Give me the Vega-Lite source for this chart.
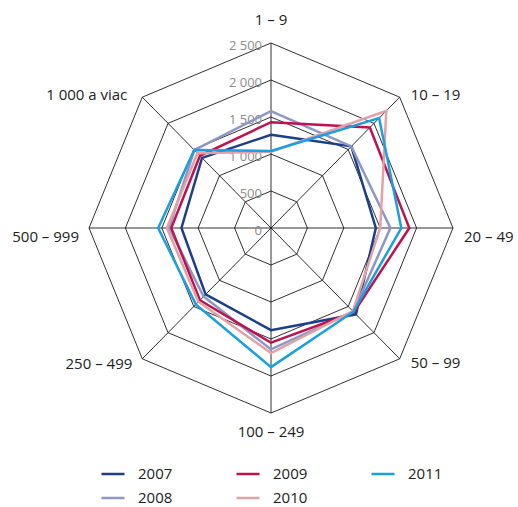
{
  "$schema": "https://vega.github.io/schema/vega-lite/v6.json",
  "width": 364,
  "height": 370,
  "autosize": {"type": "none"},
  "padding": {"left": 89, "top": 43, "right": 65, "bottom": 94},
  "background": "white",
  "config": {
    "view": {"stroke": null},
    "font": "Open Sans",
    "text": {"font": "Open Sans"}
  },
  "datasets": {
    "axes": [
      {"idx": 0, "label": "1 – 9", "levels": [500, 1000, 1500, 2000, 2500]},
      {"idx": 1, "label": "10 – 19", "levels": [500, 1000, 1500, 2000, 2500]},
      {"idx": 2, "label": "20 – 49", "levels": [500, 1000, 1500, 2000, 2500]},
      {"idx": 3, "label": "50 – 99", "levels": [500, 1000, 1500, 2000, 2500]},
      {"idx": 4, "label": "100 – 249", "levels": [500, 1000, 1500, 2000, 2500]},
      {"idx": 5, "label": "250 – 499", "levels": [500, 1000, 1500, 2000, 2500]},
      {"idx": 6, "label": "500 – 999", "levels": [500, 1000, 1500, 2000, 2500]},
      {"idx": 7, "label": "1 000 a viac", "levels": [500, 1000, 1500, 2000, 2500]}
    ],
    "ticks": [
      {"tick": 0, "label": "0"},
      {"tick": 500, "label": "500"},
      {"tick": 1000, "label": "1 000"},
      {"tick": 1500, "label": "1 500"},
      {"tick": 2000, "label": "2 000"},
      {"tick": 2500, "label": "2 500"}
    ],
    "series": [
      {"year": "2007", "idx": 0, "value": 1260},
      {"year": "2007", "idx": 1, "value": 1560},
      {"year": "2007", "idx": 2, "value": 1440},
      {"year": "2007", "idx": 3, "value": 1650},
      {"year": "2007", "idx": 4, "value": 1380},
      {"year": "2007", "idx": 5, "value": 1270},
      {"year": "2007", "idx": 6, "value": 1230},
      {"year": "2007", "idx": 7, "value": 1340},
      {"year": "2008", "idx": 0, "value": 1580},
      {"year": "2008", "idx": 1, "value": 1560},
      {"year": "2008", "idx": 2, "value": 1640},
      {"year": "2008", "idx": 3, "value": 1600},
      {"year": "2008", "idx": 4, "value": 1640},
      {"year": "2008", "idx": 5, "value": 1310},
      {"year": "2008", "idx": 6, "value": 1400},
      {"year": "2008", "idx": 7, "value": 1490},
      {"year": "2009", "idx": 0, "value": 1430},
      {"year": "2009", "idx": 1, "value": 1920},
      {"year": "2009", "idx": 2, "value": 1900},
      {"year": "2009", "idx": 3, "value": 1610},
      {"year": "2009", "idx": 4, "value": 1550},
      {"year": "2009", "idx": 5, "value": 1380},
      {"year": "2009", "idx": 6, "value": 1370},
      {"year": "2009", "idx": 7, "value": 1380},
      {"year": "2010", "idx": 0, "value": 1030},
      {"year": "2010", "idx": 1, "value": 2240},
      {"year": "2010", "idx": 2, "value": 1500},
      {"year": "2010", "idx": 3, "value": 1590},
      {"year": "2010", "idx": 4, "value": 1690},
      {"year": "2010", "idx": 5, "value": 1410},
      {"year": "2010", "idx": 6, "value": 1430},
      {"year": "2010", "idx": 7, "value": 1430},
      {"year": "2011", "idx": 0, "value": 1040},
      {"year": "2011", "idx": 1, "value": 2100},
      {"year": "2011", "idx": 2, "value": 1790},
      {"year": "2011", "idx": 3, "value": 1600},
      {"year": "2011", "idx": 4, "value": 1880},
      {"year": "2011", "idx": 5, "value": 1460},
      {"year": "2011", "idx": 6, "value": 1550},
      {"year": "2011", "idx": 7, "value": 1490}
    ]
  },
  "layer": [
    {
      "data": {"name": "axes"},
      "transform": [
        {"flatten": ["levels"]},
        {"calculate": "datum.levels * sin(datum.idx * PI / 4)", "as": "gx"},
        {"calculate": "datum.levels * cos(datum.idx * PI / 4)", "as": "gy"}
      ],
      "mark": {"type": "line", "interpolate": "linear-closed", "color": "#1a1a1a", "strokeWidth": 0.9},
      "encoding": {
        "x": {"field": "gx", "type": "quantitative", "scale": {"domain": [-2500, 2500]}, "axis": null},
        "y": {"field": "gy", "type": "quantitative", "scale": {"domain": [-2500, 2500]}, "axis": null},
        "detail": {"field": "levels", "type": "nominal"},
        "order": {"field": "idx", "type": "quantitative"}
      }
    },
    {
      "data": {"name": "axes"},
      "transform": [
        {"calculate": "0", "as": "cx"},
        {"calculate": "2500 * sin(datum.idx * PI / 4)", "as": "sx"},
        {"calculate": "2500 * cos(datum.idx * PI / 4)", "as": "sy"}
      ],
      "mark": {"type": "rule", "color": "#1a1a1a", "strokeWidth": 0.9},
      "encoding": {
        "x": {"field": "cx", "type": "quantitative"},
        "y": {"field": "cx", "type": "quantitative"},
        "x2": {"field": "sx"},
        "y2": {"field": "sy"}
      }
    },
    {
      "data": {"name": "ticks"},
      "transform": [{"calculate": "0", "as": "cx"}],
      "mark": {"type": "text", "align": "right", "baseline": "middle", "dx": -9, "dy": 3, "fontSize": 13, "color": "#8c8c8c"},
      "encoding": {
        "x": {"field": "cx", "type": "quantitative"},
        "y": {"field": "tick", "type": "quantitative"},
        "text": {"field": "label", "type": "nominal"}
      }
    },
    {
      "data": {"name": "series"},
      "transform": [
        {"calculate": "datum.value * sin(datum.idx * PI / 4)", "as": "px"},
        {"calculate": "datum.value * cos(datum.idx * PI / 4)", "as": "py"}
      ],
      "mark": {"type": "line", "interpolate": "linear-closed", "strokeWidth": 2.5},
      "encoding": {
        "x": {"field": "px", "type": "quantitative"},
        "y": {"field": "py", "type": "quantitative"},
        "order": {"field": "idx", "type": "quantitative"},
        "color": {
          "field": "year",
          "type": "nominal",
          "scale": {
            "domain": ["2007", "2009", "2011", "2008", "2010"],
            "range": ["#1b3f88", "#bf1250", "#1a9fe0", "#8d97c5", "#e3a1a6"]
          },
          "legend": {
            "title": null,
            "orient": "none",
            "legendX": 11,
            "legendY": 418,
            "columns": 3,
            "direction": "horizontal",
            "symbolType": "stroke",
            "symbolSize": 529,
            "symbolStrokeWidth": 2.5,
            "labelFont": "Open Sans",
            "labelFontSize": 15,
            "labelColor": "#222222",
            "labelOffset": 12,
            "columnPadding": 58,
            "rowPadding": 3,
            "padding": 0
          }
        }
      }
    },
    {
      "data": {"name": "axes"},
      "transform": [
        {"filter": "datum.idx == 0"},
        {"calculate": "2500 * sin(datum.idx * PI / 4)", "as": "lx"},
        {"calculate": "2500 * cos(datum.idx * PI / 4)", "as": "ly"}
      ],
      "mark": {"type": "text", "align": "center", "baseline": "middle", "dy": -23, "fontSize": 15, "color": "#222222"},
      "encoding": {"x": {"field": "lx", "type": "quantitative"}, "y": {"field": "ly", "type": "quantitative"}, "text": {"field": "label", "type": "nominal"}}
    },
    {
      "data": {"name": "axes"},
      "transform": [
        {"filter": "datum.idx == 1"},
        {"calculate": "2500 * sin(datum.idx * PI / 4)", "as": "lx"},
        {"calculate": "2500 * cos(datum.idx * PI / 4)", "as": "ly"}
      ],
      "mark": {"type": "text", "align": "left", "baseline": "middle", "dx": 11, "dy": -2, "fontSize": 15, "color": "#222222"},
      "encoding": {"x": {"field": "lx", "type": "quantitative"}, "y": {"field": "ly", "type": "quantitative"}, "text": {"field": "label", "type": "nominal"}}
    },
    {
      "data": {"name": "axes"},
      "transform": [
        {"filter": "datum.idx == 2"},
        {"calculate": "2500 * sin(datum.idx * PI / 4)", "as": "lx"},
        {"calculate": "2500 * cos(datum.idx * PI / 4)", "as": "ly"}
      ],
      "mark": {"type": "text", "align": "left", "baseline": "middle", "dx": 11, "dy": 9, "fontSize": 15, "color": "#222222"},
      "encoding": {"x": {"field": "lx", "type": "quantitative"}, "y": {"field": "ly", "type": "quantitative"}, "text": {"field": "label", "type": "nominal"}}
    },
    {
      "data": {"name": "axes"},
      "transform": [
        {"filter": "datum.idx == 3"},
        {"calculate": "2500 * sin(datum.idx * PI / 4)", "as": "lx"},
        {"calculate": "2500 * cos(datum.idx * PI / 4)", "as": "ly"}
      ],
      "mark": {"type": "text", "align": "left", "baseline": "middle", "dx": 11, "dy": 4, "fontSize": 15, "color": "#222222"},
      "encoding": {"x": {"field": "lx", "type": "quantitative"}, "y": {"field": "ly", "type": "quantitative"}, "text": {"field": "label", "type": "nominal"}}
    },
    {
      "data": {"name": "axes"},
      "transform": [
        {"filter": "datum.idx == 4"},
        {"calculate": "2500 * sin(datum.idx * PI / 4)", "as": "lx"},
        {"calculate": "2500 * cos(datum.idx * PI / 4)", "as": "ly"}
      ],
      "mark": {"type": "text", "align": "center", "baseline": "middle", "dy": 19, "fontSize": 15, "color": "#222222"},
      "encoding": {"x": {"field": "lx", "type": "quantitative"}, "y": {"field": "ly", "type": "quantitative"}, "text": {"field": "label", "type": "nominal"}}
    },
    {
      "data": {"name": "axes"},
      "transform": [
        {"filter": "datum.idx == 5"},
        {"calculate": "2500 * sin(datum.idx * PI / 4)", "as": "lx"},
        {"calculate": "2500 * cos(datum.idx * PI / 4)", "as": "ly"}
      ],
      "mark": {"type": "text", "align": "right", "baseline": "middle", "dx": -10, "dy": 5, "fontSize": 15, "color": "#222222"},
      "encoding": {"x": {"field": "lx", "type": "quantitative"}, "y": {"field": "ly", "type": "quantitative"}, "text": {"field": "label", "type": "nominal"}}
    },
    {
      "data": {"name": "axes"},
      "transform": [
        {"filter": "datum.idx == 6"},
        {"calculate": "2500 * sin(datum.idx * PI / 4)", "as": "lx"},
        {"calculate": "2500 * cos(datum.idx * PI / 4)", "as": "ly"}
      ],
      "mark": {"type": "text", "align": "right", "baseline": "middle", "dx": -10, "dy": 9, "fontSize": 15, "color": "#222222"},
      "encoding": {"x": {"field": "lx", "type": "quantitative"}, "y": {"field": "ly", "type": "quantitative"}, "text": {"field": "label", "type": "nominal"}}
    },
    {
      "data": {"name": "axes"},
      "transform": [
        {"filter": "datum.idx == 7"},
        {"calculate": "2500 * sin(datum.idx * PI / 4)", "as": "lx"},
        {"calculate": "2500 * cos(datum.idx * PI / 4)", "as": "ly"}
      ],
      "mark": {"type": "text", "align": "right", "baseline": "middle", "dx": -15, "dy": -2, "fontSize": 15, "color": "#222222"},
      "encoding": {"x": {"field": "lx", "type": "quantitative"}, "y": {"field": "ly", "type": "quantitative"}, "text": {"field": "label", "type": "nominal"}}
    }
  ]
}
